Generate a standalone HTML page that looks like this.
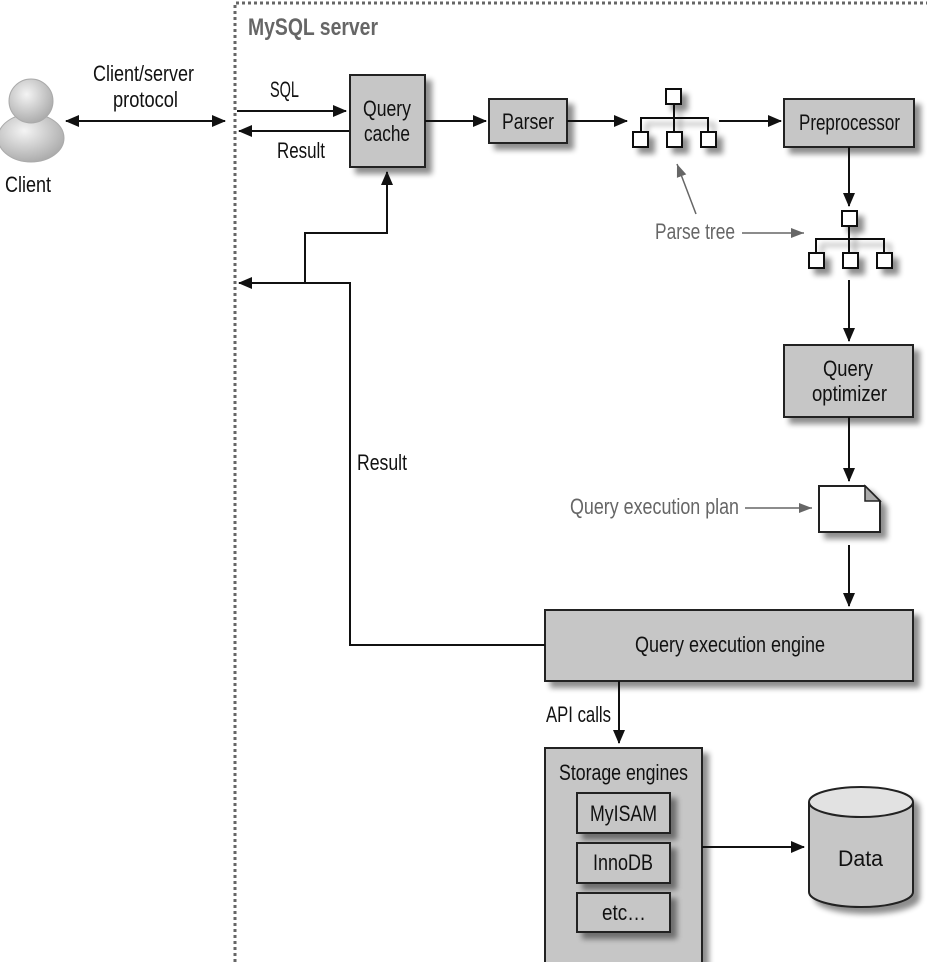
<!DOCTYPE html>
<html><head><meta charset="utf-8"><style>
html,body{margin:0;padding:0;background:#fff}
svg{display:block}
text{font-family:"Liberation Sans",sans-serif;font-size:22px;fill:#111}
.g{fill:#666}
</style></head><body>
<svg width="927" height="962" viewBox="0 0 927 962" xmlns="http://www.w3.org/2000/svg">
<defs>
<marker id="a" markerWidth="14" markerHeight="12" refX="13" refY="6" orient="auto" markerUnits="userSpaceOnUse"><path d="M0,0 L14,6 L0,12 z" fill="#111"/></marker>
<marker id="ag" markerWidth="14" markerHeight="12" refX="13" refY="6" orient="auto" markerUnits="userSpaceOnUse"><path d="M0,1 L13,6 L0,11 z" fill="#666"/></marker>
<marker id="as" markerWidth="14" markerHeight="12" refX="1" refY="6" orient="auto" markerUnits="userSpaceOnUse"><path d="M14,0 L0,6 L14,12 z" fill="#111"/></marker>
<filter id="sh" x="-20%" y="-20%" width="150%" height="150%"><feGaussianBlur in="SourceAlpha" stdDeviation="3"/><feOffset dx="6" dy="6"/><feComponentTransfer><feFuncA type="linear" slope="0.45"/></feComponentTransfer><feMerge><feMergeNode/><feMergeNode in="SourceGraphic"/></feMerge></filter>
<radialGradient id="hd" cx="0.4" cy="0.35" r="0.7"><stop offset="0" stop-color="#f4f4f4"/><stop offset="1" stop-color="#a8a8a8"/></radialGradient>
</defs>

<path d="M235,962 V3 H927" fill="none" stroke="#666" stroke-width="3" stroke-dasharray="3,3"/>
<text x="248" y="35" class="g" style="font-size:24px;font-weight:bold" textLength="130" lengthAdjust="spacingAndGlyphs">MySQL server</text>

<ellipse cx="31" cy="138" rx="33" ry="24" fill="url(#hd)" stroke="#aaa"/>
<circle cx="31" cy="101" r="22" fill="url(#hd)" stroke="#aaa"/>
<text x="5" y="192" textLength="46" lengthAdjust="spacingAndGlyphs">Client</text>
<text x="93" y="81" textLength="101" lengthAdjust="spacingAndGlyphs">Client/server</text>
<text x="113" y="107" textLength="65" lengthAdjust="spacingAndGlyphs">protocol</text>
<line x1="66" y1="121" x2="225" y2="121" stroke="#111" stroke-width="2" marker-start="url(#as)" marker-end="url(#a)"/>

<text x="270" y="97" textLength="29" lengthAdjust="spacingAndGlyphs">SQL</text>
<line x1="237" y1="111" x2="346" y2="111" stroke="#111" stroke-width="2" marker-end="url(#a)"/>
<line x1="350" y1="131" x2="239" y2="131" stroke="#111" stroke-width="2" marker-end="url(#a)"/>
<text x="277" y="158" textLength="48" lengthAdjust="spacingAndGlyphs">Result</text>

<g filter="url(#sh)" stroke="#222" stroke-width="2">
<rect x="350" y="75" width="75" height="92" fill="#c6c6c6"/>
<rect x="489" y="99" width="78" height="44" fill="#c6c6c6"/>
<rect x="784" y="99" width="130" height="48" fill="#c6c6c6"/>
<rect x="784" y="345" width="129" height="72" fill="#c6c6c6"/>
<rect x="545" y="610" width="368" height="71" fill="#c6c6c6"/>
<rect x="545" y="748" width="157" height="230" fill="#c6c6c6"/>
<path d="M819,486 H865 L880,501 V532 H819 Z" fill="#fff"/>
</g>
<path d="M865,486 V501 H880 Z" fill="#aaa" stroke="#222" stroke-width="1.5"/>

<g filter="url(#sh)" stroke="#222" stroke-width="2" fill="#c6c6c6">
<rect x="577" y="793" width="93" height="40"/>
<rect x="577" y="843" width="93" height="40"/>
<rect x="577" y="893" width="93" height="39"/>
</g>

<text x="363" y="116" textLength="48" lengthAdjust="spacingAndGlyphs">Query</text>
<text x="364" y="141" textLength="46" lengthAdjust="spacingAndGlyphs">cache</text>
<text x="502" y="129" textLength="52" lengthAdjust="spacingAndGlyphs">Parser</text>
<text x="799" y="130" textLength="101" lengthAdjust="spacingAndGlyphs">Preprocessor</text>
<text x="823" y="376" textLength="50" lengthAdjust="spacingAndGlyphs">Query</text>
<text x="812" y="401" textLength="75" lengthAdjust="spacingAndGlyphs">optimizer</text>
<text x="635" y="652" textLength="190" lengthAdjust="spacingAndGlyphs">Query execution engine</text>
<text x="559" y="780" textLength="129" lengthAdjust="spacingAndGlyphs">Storage engines</text>
<text x="590" y="821" textLength="67" lengthAdjust="spacingAndGlyphs">MyISAM</text>
<text x="593" y="870" textLength="60" lengthAdjust="spacingAndGlyphs">InnoDB</text>
<text x="602" y="920" textLength="44" lengthAdjust="spacingAndGlyphs">etc…</text>

<g stroke="#111" stroke-width="2" fill="#fff" filter="url(#sh)">
<path d="M674,105 V131 M641,131 V118 H708 V131" fill="none"/>
<rect x="666" y="89" width="15" height="15"/>
<rect x="633" y="132" width="15" height="15"/>
<rect x="667" y="132" width="15" height="15"/>
<rect x="701" y="132" width="15" height="15"/>
<path d="M849,227 V252 M816,252 V239 H884 V252" fill="none"/>
<rect x="842" y="211" width="15" height="15"/>
<rect x="809" y="253" width="15" height="15"/>
<rect x="843" y="253" width="15" height="15"/>
<rect x="877" y="253" width="15" height="15"/>
</g>

<g stroke="#111" stroke-width="2" fill="none">
<line x1="425" y1="121" x2="486" y2="121" marker-end="url(#a)"/>
<line x1="567" y1="121" x2="627" y2="121" marker-end="url(#a)"/>
<line x1="719" y1="121" x2="781" y2="121" marker-end="url(#a)"/>
<line x1="849" y1="147" x2="849" y2="206" marker-end="url(#a)"/>
<line x1="849" y1="280" x2="849" y2="341" marker-end="url(#a)"/>
<line x1="849" y1="417" x2="849" y2="481" marker-end="url(#a)"/>
<line x1="849" y1="545" x2="849" y2="606" marker-end="url(#a)"/>
<polyline points="545,645 350,645 350,283 239,283" marker-end="url(#a)"/>
<polyline points="305,283 305,233 387,233 387,172" marker-end="url(#a)"/>
<line x1="619" y1="681" x2="619" y2="743" marker-end="url(#a)"/>
<line x1="702" y1="847" x2="804" y2="847" marker-end="url(#a)"/>
</g>
<text x="357" y="470" textLength="50" lengthAdjust="spacingAndGlyphs">Result</text>
<text x="546" y="722" textLength="65" lengthAdjust="spacingAndGlyphs">API calls</text>

<text x="655" y="239" class="g" textLength="80" lengthAdjust="spacingAndGlyphs">Parse tree</text>
<line x1="742" y1="233" x2="804" y2="233" stroke="#666" stroke-width="1.5" marker-end="url(#ag)"/>
<line x1="696" y1="214" x2="677" y2="164" stroke="#666" stroke-width="1.5" marker-end="url(#ag)"/>
<text x="570" y="514" class="g" textLength="169" lengthAdjust="spacingAndGlyphs">Query execution plan</text>
<line x1="745" y1="508" x2="812" y2="508" stroke="#666" stroke-width="1.5" marker-end="url(#ag)"/>

<g filter="url(#sh)" stroke="#222" stroke-width="2">
<path d="M809,802 V892 A52,15 0 0 0 913,892 V802" fill="#c6c6c6"/>
<ellipse cx="861" cy="802" rx="52" ry="15" fill="#e2e2e2"/>
</g>
<text x="838" y="866" textLength="45" lengthAdjust="spacingAndGlyphs">Data</text>
</svg>
</body></html>
